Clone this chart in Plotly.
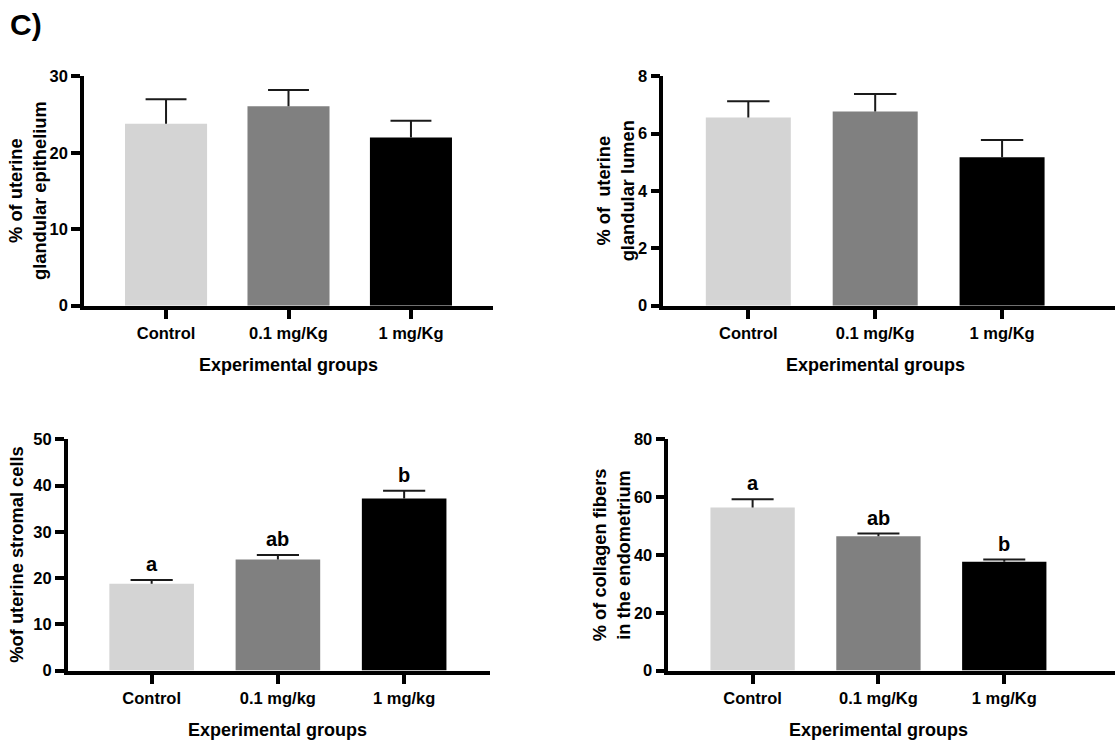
import plotly.graph_objects as go

# ---------------- data ----------------
groups_upper = ["Control", "0.1 mg/Kg", "1 mg/Kg"]
groups_lower_left = ["Control", "0.1 mg/kg", "1 mg/kg"]
groups_lower_right = ["Control", "0.1 mg/Kg", "1 mg/Kg"]

epithelium_mean = [23.8, 26.1, 22.0]
epithelium_err = [3.2, 2.1, 2.2]

lumen_mean = [6.56, 6.77, 5.18]
lumen_err = [0.57, 0.61, 0.60]

stromal_mean = [18.8, 24.0, 37.2]
stromal_err = [0.8, 1.0, 1.7]
stromal_letters = ["a", "ab", "b"]

collagen_mean = [56.4, 46.5, 37.7]
collagen_err = [2.9, 0.9, 0.7]
collagen_letters = ["a", "ab", "b"]

epithelium_ticks = [0, 10, 20, 30]
lumen_ticks = [0, 2, 4, 6, 8]
stromal_ticks = [0, 10, 20, 30, 40, 50]
collagen_ticks = [0, 20, 40, 60, 80]

bar_colors = ["#d4d4d4", "#808080", "#000000"]

W, H = 1115, 745
FONT = "Liberation Sans, Arial, Helvetica, sans-serif"

TOP_Y = [1 - 304 / H, 1 - 69 / H]
BOT_Y = [1 - 678 / H, 1 - 441 / H]

panels = [
    dict(mean=epithelium_mean, err=epithelium_err, labels=groups_upper, ticks=epithelium_ticks,
         letters=None, xdom=[84 / W, 493 / W], ydom=TOP_Y,
         xrange=[-0.67, 2.67], ytitle="% of uterine<br>glandular epithelium", yshift_title=-56),
    dict(mean=lumen_mean, err=lumen_err, labels=groups_upper, ticks=lumen_ticks,
         letters=None, xdom=[663.3 / W, 1.0], ydom=TOP_Y,
         xrange=[-0.67, 2.89], ytitle="% of  uterine<br>glandular lumen", yshift_title=-47),
    dict(mean=stromal_mean, err=stromal_err, labels=groups_lower_left, ticks=stromal_ticks,
         letters=stromal_letters, xdom=[67.7 / W, 490 / W], ydom=BOT_Y,
         xrange=[-0.665, 2.68], ytitle="%of uterine stromal cells", yshift_title=-51),
    dict(mean=collagen_mean, err=collagen_err, labels=groups_lower_right, ticks=collagen_ticks,
         letters=collagen_letters, xdom=[668.3 / W, 1.0], ydom=BOT_Y,
         xrange=[-0.67, 2.88], ytitle="% of collagen fibers<br>in the endometrium", yshift_title=-56),
]

fig = go.Figure()
annotations = []
layout_axes = {}
cap_half = 0.167
positions = [0, 1, 2]

for i, p in enumerate(panels, start=1):
    xa = "x" if i == 1 else f"x{i}"
    ya = "y" if i == 1 else f"y{i}"
    xkey = "xaxis" if i == 1 else f"xaxis{i}"
    ykey = "yaxis" if i == 1 else f"yaxis{i}"

    fig.add_trace(go.Bar(x=positions, y=p["mean"], width=0.67,
                         marker=dict(color=bar_colors, line=dict(width=0)),
                         xaxis=xa, yaxis=ya, hoverinfo="skip"))

    ex, ey = [], []
    for xpos, m, e in zip(positions, p["mean"], p["err"]):
        ex += [xpos, xpos, None, xpos - cap_half, xpos + cap_half, None]
        ey += [m, m + e, None, m + e, m + e, None]
    fig.add_trace(go.Scatter(x=ex, y=ey, mode="lines",
                             line=dict(color="#1a1a1a", width=2),
                             xaxis=xa, yaxis=ya, hoverinfo="skip"))

    layout_axes[xkey] = dict(
        domain=p["xdom"], range=p["xrange"], anchor=ya,
        tickmode="array", tickvals=positions, ticktext=p["labels"],
        ticks="outside", ticklen=10, tickwidth=3.5, tickcolor="black",
        showline=True, linewidth=3.5, linecolor="black",
        showgrid=False, zeroline=False, fixedrange=True,
        tickfont=dict(family=FONT, size=16.5, color="black", weight=700),
    )
    layout_axes[ykey] = dict(
        domain=p["ydom"], range=[0, p["ticks"][-1]], anchor=xa,
        tickmode="array", tickvals=p["ticks"],
        ticks="outside", ticklen=9, tickwidth=3.5, tickcolor="black",
        showline=True, linewidth=3.5, linecolor="black",
        showgrid=False, zeroline=False, fixedrange=True,
        tickfont=dict(family=FONT, size=16.5, color="black", weight=700),
    )

    # y title
    annotations.append(dict(
        text=p["ytitle"], textangle=-90, xref="paper", yref="paper",
        x=p["xdom"][0], y=(p["ydom"][0] + p["ydom"][1]) / 2,
        xanchor="center", yanchor="middle", xshift=p["yshift_title"], showarrow=False,
        font=dict(family=FONT, size=18.3, color="black", weight=700)))
    # x title
    annotations.append(dict(
        text="Experimental groups", xref=xa, yref="paper", x=1, y=p["ydom"][0],
        xanchor="center", yanchor="middle", yshift=-59, showarrow=False,
        font=dict(family=FONT, size=18, color="black", weight=700)))
    # significance letters
    if p["letters"]:
        for xpos, m, e, lt in zip(positions, p["mean"], p["err"], p["letters"]):
            annotations.append(dict(
                text=lt, xref=xa, yref=ya, x=xpos, y=m + e,
                xanchor="center", yanchor="bottom", yshift=3, showarrow=False,
                font=dict(family=FONT, size=20, color="black", weight=700)))

annotations.append(dict(
    text="C)", xref="paper", yref="paper", x=8 / W, y=1.0, yshift=3,
    xanchor="left", yanchor="top", showarrow=False,
    font=dict(family=FONT, size=30, color="black", weight=700)))

fig.update_layout(
    width=W, height=H, margin=dict(l=0, r=0, t=0, b=0),
    paper_bgcolor="white", plot_bgcolor="white",
    showlegend=False, annotations=annotations, **layout_axes,
)

fig.write_html("out.html", config={"displayModeBar": False},
               post_script="document.body.style.margin='0';document.body.style.overflow='hidden';")
